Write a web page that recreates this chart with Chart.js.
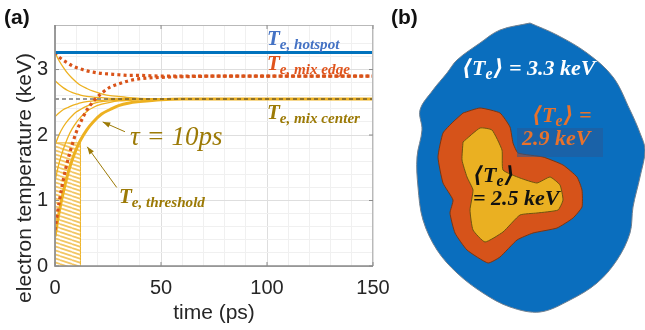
<!DOCTYPE html>
<html>
<head>
<meta charset="UTF-8">
<title>Electron temperature</title>
<script src="https://cdn.jsdelivr.net/npm/chart.js"></script>
<style>
  html, body { margin: 0; padding: 0; background: #fff; }
  #wrap { position: relative; width: 645px; height: 330px; overflow: hidden; }
  #a { position: absolute; left: 0; top: 0; }
  #b { position: absolute; left: 385px; top: 0; }
</style>
</head>
<body>
<div id="wrap">
  <canvas id="a" width="400" height="330"></canvas>
  <canvas id="b" width="260" height="330"></canvas>
</div>
<script>
// ---- panel (a) data ----
const time = [0, 2, 4, 6, 8, 10, 12, 15, 18, 22, 26, 30, 35, 40, 50, 60, 80, 100, 150];
const hotspotLevel = 3.26;
const mixCenterLevel = 2.55;
const mixEdgeFromHot  = [3.26, 3.19, 3.14, 3.10, 3.06, 3.03, 3.01, 2.98, 2.96, 2.94, 2.93, 2.92, 2.91, 2.91, 2.90, 2.90, 2.90, 2.90, 2.90];
const mixEdgeFromCold = [0.55, 0.98, 1.33, 1.61, 1.84, 2.04, 2.19, 2.38, 2.51, 2.64, 2.73, 2.78, 2.83, 2.86, 2.88, 2.89, 2.90, 2.90, 2.90];
const threshold       = [0.45, 0.83, 1.14, 1.40, 1.61, 1.78, 1.92, 2.08, 2.20, 2.32, 2.39, 2.45, 2.49, 2.51, 2.54, 2.55, 2.55, 2.55, 2.55];
const thinA = [3.26, 3.13, 3.03, 2.94, 2.87, 2.81, 2.76, 2.71, 2.67, 2.63, 2.60, 2.59, 2.57, 2.56, 2.55, 2.55, 2.55, 2.55, 2.55];
const thinB = [2.83, 2.77, 2.72, 2.68, 2.65, 2.63, 2.61, 2.59, 2.58, 2.57, 2.56, 2.56, 2.55, 2.55, 2.55, 2.55, 2.55, 2.55, 2.55];
const thinC = [2.28, 2.34, 2.39, 2.42, 2.45, 2.47, 2.49, 2.51, 2.52, 2.53, 2.54, 2.54, 2.55, 2.55, 2.55, 2.55, 2.55, 2.55, 2.55];
const thinD = [1.85, 2.01, 2.13, 2.22, 2.29, 2.35, 2.39, 2.44, 2.48, 2.51, 2.52, 2.53, 2.54, 2.55, 2.55, 2.55, 2.55, 2.55, 2.55];
const thinE = [1.30, 1.58, 1.79, 1.96, 2.09, 2.19, 2.27, 2.36, 2.42, 2.47, 2.50, 2.52, 2.53, 2.54, 2.55, 2.55, 2.55, 2.55, 2.55];
const hatchTime = [0, 0, 12, 12];
const hatchTemp = [0, 1.88, 1.88, 0];
const xMajor = [0, 50, 100, 150];
const yMajor = [0, 1, 2, 3];

// ---- panel (b) outlines (x: px right of 400, y: px from top) ----
const blueX = [130, 157, 187, 213, 230, 240, 245, 240, 233, 230, 217, 197, 170, 140, 110, 83, 57, 37, 23, 18, 17, 22, 20, 33, 47, 57, 80, 100, 130];
const blueY = [23, 35, 53, 77, 110, 133, 150, 177, 207, 233, 260, 283, 300, 312, 307, 293, 273, 250, 220, 187, 157, 130, 110, 90, 73, 60, 43, 30, 23];
const orangeX = [63, 80, 100, 110, 113, 118, 143, 163, 177, 182, 182, 173, 157, 133, 117, 100, 88, 67, 55, 50, 53, 43, 38, 43, 53, 63];
const orangeY = [113, 108, 113, 127, 143, 153, 157, 165, 177, 190, 207, 218, 228, 233, 240, 257, 263, 250, 233, 213, 200, 183, 157, 133, 122, 113];
const yellowX = [63, 80, 92, 102, 103, 120, 137, 150, 160, 163, 158, 137, 120, 103, 85, 73, 70, 73, 67, 62, 63];
const yellowY = [142, 128, 130, 150, 170, 178, 183, 177, 185, 200, 210, 213, 215, 232, 242, 230, 210, 190, 177, 160, 142];

const ORANGE = '#EDB120', RED = '#D95319', BLUE = '#0072BD', GOLD = '#9c7a06';
const pts = (xs, ys) => xs.map((v, i) => ({ x: v, y: ys[i] }));
const flat = v => [{ x: 0, y: v }, { x: 150, y: v }];

function hatchPattern(ctx) {
  const c = document.createElement('canvas');
  c.width = 12; c.height = 4;
  const g = c.getContext('2d');
  g.fillStyle = '#fff';
  g.fillRect(0, 0, 12, 4);
  g.strokeStyle = '#f3c663';
  g.lineWidth = 1.8;
  [-4, 0, 4].forEach(k => {
    g.beginPath(); g.moveTo(0, k); g.lineTo(12, k + 4); g.stroke();
  });
  return ctx.createPattern(c, 'repeat');
}

// text with one subscript part, e.g. T_e, hotspot
function rich(ctx, x, y, parts, size, color, style) {
  ctx.fillStyle = color;
  ctx.textAlign = 'left';
  ctx.textBaseline = 'alphabetic';
  parts.forEach(p => {
    const s = p.sub ? size * 0.72 : size;
    ctx.font = style + ' ' + s + 'px "Liberation Serif", "DejaVu Serif", serif';
    ctx.fillText(p.t, x, y + (p.sub ? size * 0.17 : 0));
    x += ctx.measureText(p.t).width + (p.sub ? 1 : 0);
  });
}

function arrow(ctx, x1, y1, x2, y2) {
  const ang = Math.atan2(y2 - y1, x2 - x1);
  ctx.strokeStyle = GOLD; ctx.fillStyle = GOLD; ctx.lineWidth = 1;
  ctx.beginPath(); ctx.moveTo(x1, y1); ctx.lineTo(x2, y2); ctx.stroke();
  ctx.beginPath();
  ctx.moveTo(x2, y2);
  ctx.lineTo(x2 - 8 * Math.cos(ang - 0.35), y2 - 8 * Math.sin(ang - 0.35));
  ctx.lineTo(x2 - 8 * Math.cos(ang + 0.35), y2 - 8 * Math.sin(ang + 0.35));
  ctx.closePath(); ctx.fill();
}

const frameA = {
  id: 'frameA',
  afterDatasetsDraw(chart) {
    const { ctx, chartArea: a, scales: { x, y } } = chart;
    ctx.save();
    ctx.strokeStyle = '#b9b9b9'; ctx.lineWidth = 1;
    ctx.strokeRect(a.left, a.top + 0.5, a.right - a.left - 0.5, a.bottom - a.top);
    ctx.strokeStyle = '#8c8c8c'; ctx.lineWidth = 1.6;
    ctx.beginPath(); ctx.moveTo(a.left, a.top); ctx.lineTo(a.left, a.bottom); ctx.lineTo(a.right, a.bottom); ctx.stroke();
    ctx.lineWidth = 1;
    ctx.beginPath();
    xMajor.forEach(v => {
      const px = x.getPixelForValue(v);
      ctx.moveTo(px, a.bottom); ctx.lineTo(px, a.bottom - 4);
      ctx.moveTo(px, a.top); ctx.lineTo(px, a.top + 4);
    });
    yMajor.forEach(v => {
      const py = y.getPixelForValue(v);
      ctx.moveTo(a.left, py); ctx.lineTo(a.left + 4, py);
      ctx.moveTo(a.right, py); ctx.lineTo(a.right - 4, py);
    });
    ctx.stroke();
    ctx.restore();
  },
  afterDraw(chart) {
    const { ctx, scales: { x, y } } = chart;
    ctx.save();
    // y axis title
    ctx.save();
    ctx.translate(31, 178);
    ctx.rotate(-Math.PI / 2);
    ctx.fillStyle = '#262626';
    ctx.font = '21px "Liberation Sans", Arial, sans-serif';
    ctx.textAlign = 'center';
    ctx.textBaseline = 'alphabetic';
    ctx.fillText('electron temperature (keV)', 0, 0);
    ctx.restore();
    // panel label
    ctx.fillStyle = '#111';
    ctx.font = 'bold 21px "Liberation Sans", Arial, sans-serif';
    ctx.fillText('(a)', 4, 24);
    // curve labels
    const X = v => x.getPixelForValue(v), Y = v => y.getPixelForValue(v);
    rich(ctx, X(100), Y(3.37), [{ t: 'T' }, { t: 'e, hotspot', sub: true }], 21, '#4472C4', 'bold italic');
    rich(ctx, X(100), Y(2.99), [{ t: 'T' }, { t: 'e, mix edge', sub: true }], 21, '#E0531B', 'bold italic');
    rich(ctx, X(100), Y(2.24), [{ t: 'T' }, { t: 'e, mix center', sub: true }], 21, GOLD, 'bold italic');
    rich(ctx, X(30.2), Y(0.96), [{ t: 'T' }, { t: 'e, threshold', sub: true }], 21, GOLD, 'bold italic');
    rich(ctx, X(35.4), Y(1.85), [{ t: 'τ = 10ps' }], 27, GOLD, 'italic');
    arrow(ctx, X(33), Y(2.05), X(22.5), Y(2.20));
    arrow(ctx, X(29.1), Y(1.2), X(15.2), Y(1.82));
    ctx.restore();
  }
};

const isMajor = (v, step) => Math.abs(v / step - Math.round(v / step)) < 1e-6;

// Chart.js paints the first dataset on top, so the list runs top to bottom
new Chart(document.getElementById('a'), {
  type: 'line',
  data: {
    datasets: [
      { data: flat(hotspotLevel), borderColor: BLUE, borderWidth: 3 },
      { data: pts(time, mixEdgeFromHot), borderColor: RED, borderWidth: 3.2, borderDash: [3, 3.2] },
      { data: pts(time, mixEdgeFromCold), borderColor: RED, borderWidth: 3.2, borderDash: [3, 3.2] },
      { data: flat(mixCenterLevel), borderColor: '#333', borderWidth: 1, borderDash: [4, 3] },
      { data: pts(time, threshold), borderColor: ORANGE, borderWidth: 3 },
      { data: pts(time, thinA), borderColor: ORANGE, borderWidth: 1.3 },
      { data: pts(time, thinB), borderColor: ORANGE, borderWidth: 1.3 },
      { data: pts(time, thinC), borderColor: ORANGE, borderWidth: 1.3 },
      { data: pts(time, thinD), borderColor: ORANGE, borderWidth: 1.3 },
      { data: pts(time, thinE), borderColor: ORANGE, borderWidth: 1.3 },
      { data: pts(hatchTime, hatchTemp), borderColor: ORANGE, borderWidth: 1, fill: 'origin',
        backgroundColor: hatchPattern(document.getElementById('a').getContext('2d')), tension: 0 }
    ]
  },
  options: {
    responsive: false,
    animation: false,
    layout: { padding: { top: 25, right: 27, left: 0, bottom: 0 } },
    elements: {
      point: { radius: 0 },
      line: { cubicInterpolationMode: 'monotone', fill: false }
    },
    plugins: { legend: { display: false }, tooltip: { enabled: false } },
    scales: {
      x: {
        type: 'linear', min: 0, max: 150,
        afterFit: s => { s.height = 64; },
        border: { display: false },
        grid: { drawTicks: false, color: c => isMajor(c.tick.value, 50) ? '#dedede' : '#f0f0f0' },
        ticks: {
          stepSize: 10, autoSkip: false, maxRotation: 0, padding: 10,
          color: '#262626', font: { size: 20, family: '"Liberation Sans", Arial, sans-serif' },
          callback: v => isMajor(v, 50) ? v : ''
        },
        title: {
          display: true, text: 'time (ps)', color: '#262626', padding: { top: 0, bottom: 4 },
          font: { size: 21, family: '"Liberation Sans", Arial, sans-serif' }
        }
      },
      y: {
        type: 'linear', min: 0, max: 3.68,
        afterFit: s => { s.width = 55; },
        border: { display: false },
        grid: { drawTicks: false, color: c => isMajor(c.tick.value, 1) ? '#dedede' : '#f0f0f0' },
        ticks: {
          stepSize: 0.2, autoSkip: false, padding: 7,
          color: '#262626', font: { size: 20, family: '"Liberation Sans", Arial, sans-serif' },
          callback: v => isMajor(v, 1) ? Math.round(v) : ''
        }
      }
    }
  },
  plugins: [frameA]
});

// ---- panel (b) ----
const textB = {
  id: 'textB',
  afterDatasetsDraw(chart) {
    const { ctx, scales: { x, y } } = chart;
    const X = v => x.getPixelForValue(v), Y = v => y.getPixelForValue(v);
    ctx.save();
    ctx.fillStyle = '#111';
    ctx.font = 'bold 21px "Liberation Sans", Arial, sans-serif';
    ctx.textBaseline = 'alphabetic';
    ctx.fillText('(b)', X(-9), Y(24));
    ctx.fillStyle = 'rgba(40, 90, 150, 0.55)';
    ctx.fillRect(X(117), Y(128), X(203) - X(117), Y(157) - Y(128));
    rich(ctx, X(62), Y(75), [{ t: '⟨T' }, { t: 'e', sub: true }, { t: '⟩ = 3.3 keV' }], 22, '#ffffff', 'bold italic');
    rich(ctx, X(132), Y(122), [{ t: '⟨T' }, { t: 'e', sub: true }, { t: '⟩ =' }], 22, '#E8722C', 'bold italic');
    rich(ctx, X(122), Y(145), [{ t: '2.9 keV' }], 22, '#E8722C', 'bold italic');
    rich(ctx, X(73), Y(182), [{ t: '⟨T' }, { t: 'e', sub: true }, { t: '⟩' }], 22, '#111111', 'bold italic');
    rich(ctx, X(73), Y(205), [{ t: '= 2.5 keV' }], 22, '#111111', 'bold italic');
    ctx.restore();
  }
};

// yellow core first so it is painted over the orange shell and the blue blob
new Chart(document.getElementById('b'), {
  type: 'scatter',
  data: {
    datasets: [
      { data: pts(yellowX, yellowY), showLine: true, fill: 'shape', tension: 0.15,
        backgroundColor: '#EAB022', borderColor: '#6e5410', borderWidth: 1 },
      { data: pts(orangeX, orangeY), showLine: true, fill: 'shape', tension: 0.15,
        backgroundColor: '#D6531A', borderColor: '#7d3510', borderWidth: 1 },
      { data: pts(blueX, blueY), showLine: true, fill: 'shape', tension: 0.35,
        backgroundColor: '#0A6EBE', borderColor: '#6f7f8f', borderWidth: 1 }
    ]
  },
  options: {
    responsive: false,
    animation: false,
    layout: { padding: 0 },
    elements: { point: { radius: 0 } },
    plugins: { legend: { display: false }, tooltip: { enabled: false } },
    scales: {
      x: { type: 'linear', display: false, min: -15, max: 245 },
      y: { type: 'linear', display: false, min: 0, max: 330, reverse: true }
    }
  },
  plugins: [textB]
});
</script>
</body>
</html>
